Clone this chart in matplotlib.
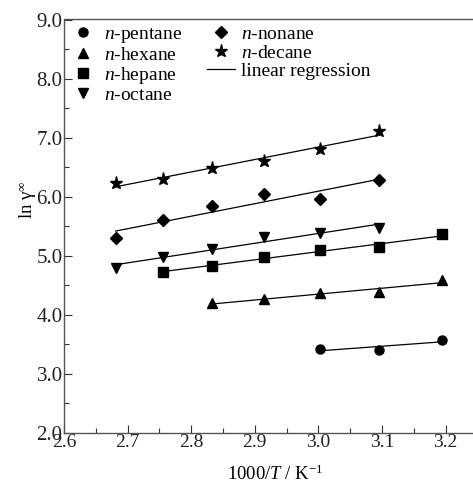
import numpy as np
import matplotlib
matplotlib.use("Agg")
import matplotlib.pyplot as plt
from matplotlib.ticker import MultipleLocator, FormatStrFormatter

plt.rcParams['font.family'] = ['Liberation Serif', 'DejaVu Serif']
plt.rcParams['mathtext.fontset'] = 'custom'
plt.rcParams['mathtext.rm'] = 'Liberation Serif'
plt.rcParams['mathtext.it'] = 'Liberation Serif:italic'

# 1000/T values (K^-1)
pentane_x = [3.003, 3.096, 3.195]
pentane_y = [3.42, 3.40, 3.57]
hexane_x = [2.833, 2.915, 3.003, 3.096, 3.195]
hexane_y = [4.19, 4.26, 4.37, 4.38, 4.58]
hepane_x = [2.755, 2.833, 2.915, 3.003, 3.096, 3.195]
hepane_y = [4.72, 4.83, 4.98, 5.09, 5.14, 5.36]
octane_x = [2.681, 2.755, 2.833, 2.915, 3.003, 3.096]
octane_y = [4.79, 4.97, 5.12, 5.32, 5.39, 5.47]
nonane_x = [2.681, 2.755, 2.833, 2.915, 3.003, 3.096]
nonane_y = [5.29, 5.61, 5.84, 6.05, 5.96, 6.28]
decane_x = [2.681, 2.755, 2.833, 2.915, 3.003, 3.096]
decane_y = [6.23, 6.29, 6.48, 6.60, 6.81, 7.11]

labels = ['$n$-pentane', '$n$-hexane', '$n$-hepane', '$n$-octane',
          '$n$-nonane', '$n$-decane']

series = [(pentane_x, pentane_y, 'o', 6.5),
          (hexane_x, hexane_y, '^', 7),
          (hepane_x, hepane_y, 's', 6.5),
          (octane_x, octane_y, 'v', 7),
          (nonane_x, nonane_y, 'D', 6),
          (decane_x, decane_y, '*', 9.5)]

fig = plt.figure(figsize=(4.73, 4.86), dpi=100)
ax = fig.add_axes([64/473, 53.3/486, 1 - 64/473, (432.7-19.5)/486])

handles = []
for (xs, ys, m, ms), lab in zip(series, labels):
    h, = ax.plot(xs, ys, linestyle='none', marker=m, color='black', ms=ms, label=lab)
    handles.append(h)
    p = np.polyfit(xs, ys, 1)
    xl = np.array([xs[0], xs[-1]])
    ax.plot(xl, np.polyval(p, xl), color='black', lw=0.9)
lh, = ax.plot([], [], color='black', lw=0.9, label='linear regression')
handles.append(lh)

ax.set_xlim(2.6, 2.6 + (473-64)/636)
ax.set_ylim(2.0, 9.0)
ax.xaxis.set_major_locator(MultipleLocator(0.1))
ax.xaxis.set_minor_locator(MultipleLocator(0.05))
ax.yaxis.set_major_locator(MultipleLocator(1.0))
ax.yaxis.set_minor_locator(MultipleLocator(0.5))
ax.xaxis.set_major_formatter(FormatStrFormatter('%.1f'))
ax.yaxis.set_major_formatter(FormatStrFormatter('%.1f'))
ax.tick_params(which='both', direction='in', colors='#333333', labelcolor='#222222')
ax.tick_params(axis='x', labelsize=14)
ax.tick_params(axis='y', labelsize=15)
ax.tick_params(which='major', length=6, width=0.8)
ax.tick_params(axis='y', which='major', pad=1)
ax.tick_params(axis='x', which='major', pad=1)
ax.tick_params(which='minor', length=3.5, width=0.8)
ax.spines['right'].set_visible(False)
for s in ['left', 'bottom', 'top']:
    ax.spines[s].set_color('#555555')
    ax.spines[s].set_linewidth(1.0)

ax.set_xlabel('1000/$T$ / K$^{\\mathregular{-1}}$', fontsize=13.5)
ax.set_ylabel('ln γ$^{\\infty}$', fontsize=13.5)
ax.xaxis.set_label_coords(0.516, -0.078)
ax.yaxis.set_label_coords(-0.062, 0.563)

ax.legend(handles=handles, ncol=2, loc='upper left', frameon=False,
          fontsize=14, handlelength=1.4, handletextpad=0.35, labelspacing=0.05,
          columnspacing=1.3, borderaxespad=0.15, borderpad=0.15)

fig.savefig('out.png', dpi=100)
